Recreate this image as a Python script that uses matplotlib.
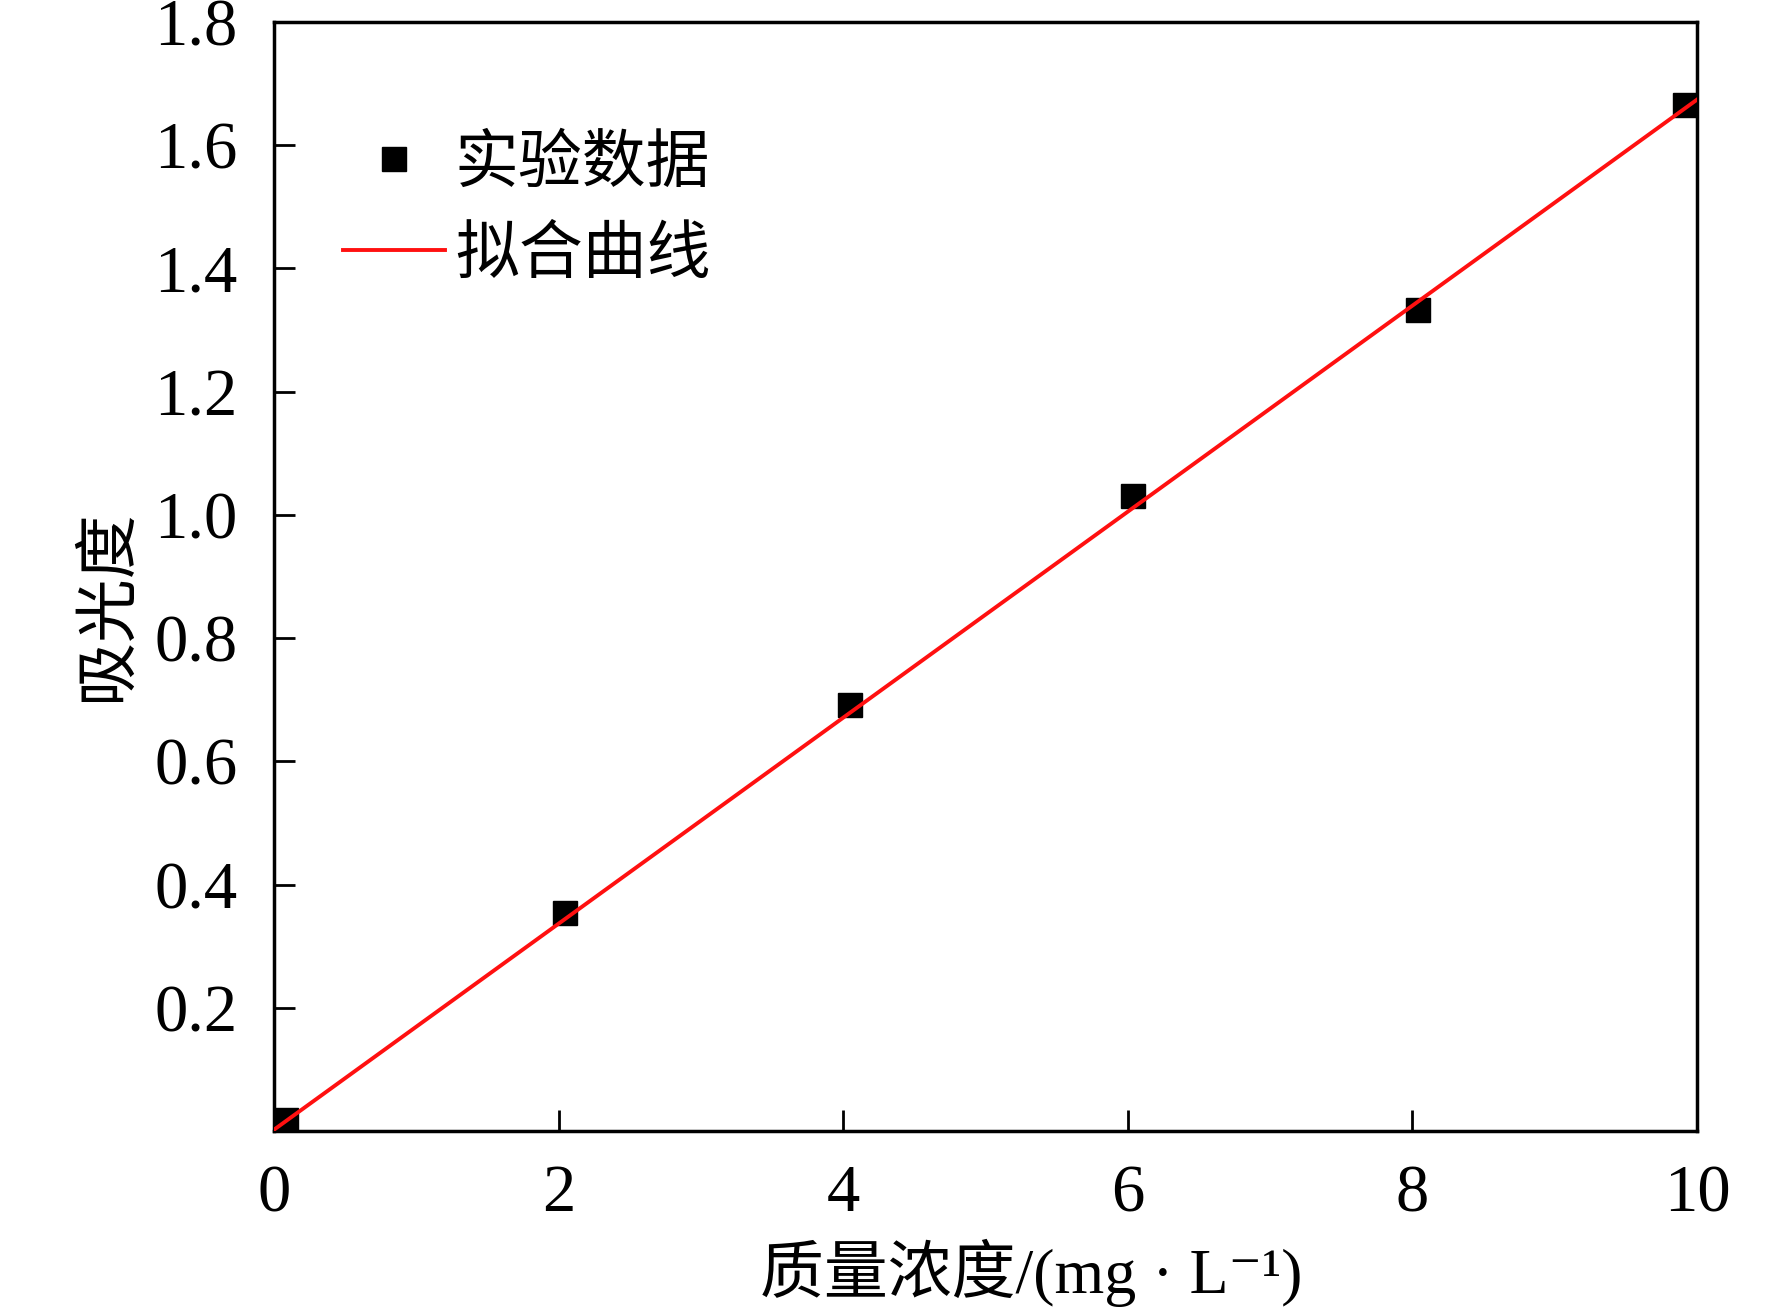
import matplotlib
matplotlib.use('Agg')
import matplotlib.pyplot as plt

plt.rcParams['font.family'] = ['Liberation Serif', 'Noto Sans CJK SC', 'DejaVu Sans']

conc = [0.084, 2.045, 4.048, 6.036, 8.036, 9.915]
absorb = [0.018, 0.354, 0.692, 1.031, 1.333, 1.665]

# fitted line end points
fit_x = [0, 10]
fit_y = [0.002, 1.674]

xticks = [0, 2, 4, 6, 8, 10]
yticks = [0.2, 0.4, 0.6, 0.8, 1.0, 1.2, 1.4, 1.6, 1.8]

fig = plt.figure(figsize=(17.72, 13.16), dpi=100)
ax = fig.add_axes([0.1546, 0.1406, 0.8031, 0.8427])

ax.plot(conc, absorb, 's', color='black', markersize=17, label='实验数据', zorder=3)
ax.plot(fit_x, fit_y, '-', color='#ff1010', lw=2.8, label='拟合曲线', zorder=4)

ax.set_xlim(0, 10)
ax.set_ylim(0, 1.8)
ax.set_xticks(xticks)
ax.set_xticklabels([str(t) for t in xticks])
ax.set_yticks(yticks)
ax.set_yticklabels([f'{t:.1f}' for t in yticks])

for s in ax.spines.values():
    s.set_linewidth(2.5)
ax.tick_params(direction='in', length=15, width=2, labelsize=48)
ax.tick_params(axis='y', pad=26)
ax.tick_params(axis='x', pad=24)

ax.set_xlabel('质量浓度/(mg · L⁻¹)', fontsize=46)
ax.xaxis.set_label_coords(0.532, -0.128)
ax.xaxis.label.set_va('center')
ax.set_ylabel('吸光度', fontsize=46)
ax.yaxis.set_label_coords(-0.116, 0.474)
ax.yaxis.label.set_va('center')

ax.legend(loc='upper left', bbox_to_anchor=(0.0485, 0.897), frameon=False,
          fontsize=46, numpoints=1, handlelength=1.6, handletextpad=0.15,
          labelspacing=0.5, borderpad=0, borderaxespad=0)

fig.savefig('out.png', dpi=100)
